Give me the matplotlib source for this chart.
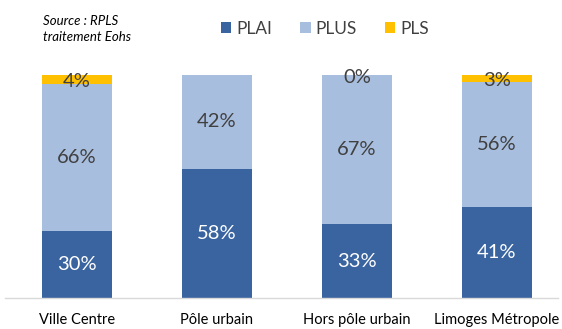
import matplotlib.pyplot as plt
import numpy as np

categories = ['Ville Centre', 'Pôle urbain', 'Hors pôle urbain', 'Limoges Métropole']
plai = [30, 58, 33, 41]
plus = [66, 42, 67, 56]
pls = [4, 0, 0, 3]
pls_shown = [True, False, True, True]  # no PLS label on Pôle urbain

C_PLAI = '#3A64A0'
C_PLUS = '#A8BEDE'
C_PLS = '#FFC000'
TXT = '#404040'

plt.rcParams['font.family'] = ['Lato', 'DejaVu Sans']

W, H = 562, 329
fig = plt.figure(figsize=(W / 100, H / 100), dpi=100)
ax = fig.add_axes([5 / W, 31 / H, 553 / W, 223 / H])

x = np.arange(len(categories))
bw = 0.5
b1 = ax.bar(x, plai, bw, color=C_PLAI, label='PLAI', zorder=2)
b2 = ax.bar(x, plus, bw, bottom=plai, color=C_PLUS, label='PLUS', zorder=2)
bottom3 = np.array(plai) + np.array(plus)
b3 = ax.bar(x, pls, bw, bottom=bottom3, color=C_PLS, label='PLS', zorder=2)

ax.set_xlim(-0.514, 3.436)
ax.set_ylim(0, 100)

# value labels
for i in range(len(categories)):
    ax.text(x[i], plai[i] / 2, f'{plai[i]}%', ha='center', va='center',
            color='white', fontsize=14.5)
    ax.text(x[i], plai[i] + plus[i] / 2, f'{plus[i]}%', ha='center', va='center',
            color=TXT, fontsize=14.5)
    if pls_shown[i]:
        ax.text(x[i], bottom3[i] + pls[i] / 2 - 1, f'{pls[i]}%', ha='center',
                va='center', color=TXT, fontsize=14.5)

for s in ['top', 'right', 'left']:
    ax.spines[s].set_visible(False)
ax.spines['bottom'].set_color('#D9D9D9')
ax.spines['bottom'].set_linewidth(1.0)
ax.set_yticks([])
ax.set_xticks(x)
ax.set_xticklabels(categories, fontsize=10.5, color='black')
ax.tick_params(axis='x', length=0, pad=11)

leg = fig.legend(handles=[b1, b2, b3], labels=['PLAI', 'PLUS', 'PLS'],
                 loc='center', bbox_to_anchor=(325 / W, 1 - 29 / H), ncol=3,
                 frameon=False, fontsize=12.5, handlelength=0.6, handleheight=0.6,
                 columnspacing=1.6, handletextpad=0.3)
for t in leg.get_texts():
    t.set_color(TXT)

fig.text(43 / W, 1 - 21 / H, 'Source : RPLS', fontsize=9.5, style='italic',
         color='black', va='center')
fig.text(43 / W, 1 - 37 / H, 'traitement Eohs', fontsize=9.5, style='italic',
         color='black', va='center')

fig.savefig('out.png', dpi=100, facecolor='white')
